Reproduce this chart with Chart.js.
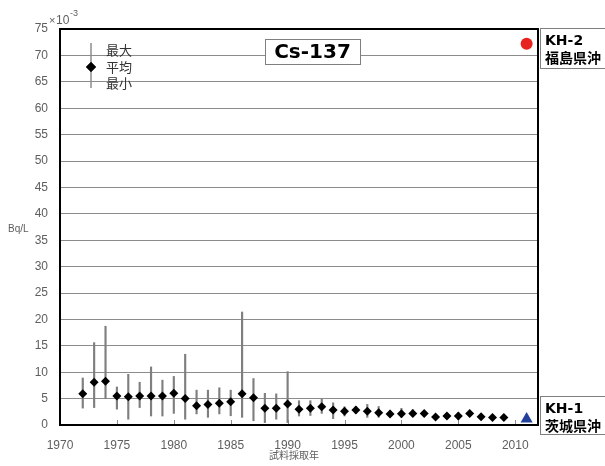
<!DOCTYPE html>
<html><head><meta charset="utf-8">
<script src="https://cdn.jsdelivr.net/npm/chart.js@4/dist/chart.umd.min.js"></script>
<style>html,body{margin:0;padding:0;background:#fff}canvas{display:block}</style>
</head><body>
<canvas id="c" width="605" height="466"></canvas>
<script>
// ---- data (Bq/L ×10^-3) ----
const years = [1972,1973,1974,1975,1976,1977,1978,1979,1980,1981,1982,1983,1984,1985,1986,1987,1988,1989,1990,1991,1992,1993,1994,1995,1996,1997,1998,1999,2000,2001,2002,2003,2004,2005,2006,2007,2008,2009];
const meanValues = [5.9,8.1,8.3,5.5,5.35,5.5,5.5,5.5,6.0,5.0,3.65,3.9,4.1,4.4,5.9,5.15,3.15,3.15,4.0,3.0,3.15,3.45,2.85,2.6,2.85,2.6,2.3,2.1,2.15,2.2,2.2,1.5,1.7,1.7,2.2,1.55,1.4,1.4];
const maxValues  = [8.9,15.6,18.7,7.2,9.6,8.1,11.0,8.5,9.2,13.4,6.6,6.6,7.05,6.6,21.4,8.8,6.0,5.9,10.1,4.6,4.6,4.9,4.2,3.45,3.5,3.9,3.5,2.8,3.15,2.9,2.7,2.0,2.2,2.3,2.6,1.9,1.7,1.7];
const minValues  = [3.2,3.3,5.0,3.0,1.1,3.3,1.7,1.7,2.2,1.1,2.1,1.45,2.1,1.75,1.45,0.8,0.45,1.1,0.45,1.7,1.8,2.2,1.2,1.7,2.2,1.45,1.45,1.6,1.45,1.7,1.8,1.1,1.2,1.0,1.8,1.2,1.1,1.1];
const kh2Years = [2011];
const kh2Values = [72.2];
const kh1Years = [2011];
const kh1Values = [1.15];
const xTickValues = [1970,1975,1980,1985,1990,1995,2000,2005,2010];
const yTickValues = [0,5,10,15,20,25,30,35,40,45,50,55,60,65,70,75];
const legendLabels = ['最大','平均','最小'];
const titleText = 'Cs-137';
const siteKH2 = ['KH-2','福島県沖'];
const siteKH1 = ['KH-1','茨城県沖'];
const yUnitText = 'Bq/L';
const xTitleText = '試料採取年';

// ---- styling ----
const GRID = '#8c8c8c';
const TXT = '#5e5e5e';
const JP = '"Noto Sans CJK JP", sans-serif';
const LAT = '"Liberation Sans", Arial, sans-serif';

const extras = {
  id: 'extras',
  beforeDatasetsDraw(chart) {
    const {ctx, chartArea: a, scales: {x}} = chart;
    ctx.save();
    ctx.strokeStyle = GRID; ctx.lineWidth = 1;
    xTickValues.forEach(v => {
      const px = Math.round(x.getPixelForValue(v)) + 0.5;
      ctx.beginPath(); ctx.moveTo(px, a.bottom); ctx.lineTo(px, a.bottom - 5); ctx.stroke();
    });
    // title box
    ctx.fillStyle = '#fff'; ctx.strokeStyle = '#7f7f7f'; ctx.lineWidth = 1;
    ctx.fillRect(265, 39, 95, 25); ctx.strokeRect(265.5, 39.5, 95, 25);
    ctx.fillStyle = '#000'; ctx.font = 'bold 20px "DejaVu Sans", sans-serif';
    ctx.textAlign = 'center'; ctx.textBaseline = 'middle';
    ctx.fillText(titleText, 312.5, 53);
    // legend sample
    const lx = a.left + 31;
    ctx.strokeStyle = GRID; ctx.lineWidth = 1.5;
    ctx.beginPath(); ctx.moveTo(lx, a.top + 14); ctx.lineTo(lx, a.top + 59); ctx.stroke();
    ctx.fillStyle = '#000';
    Chart.helpers.drawPoint(ctx, {pointStyle: 'rectRot', radius: 5, borderWidth: 0}, lx, a.top + 38);
    ctx.fill();
    ctx.fillStyle = '#333'; ctx.font = '13px ' + JP; ctx.textAlign = 'left';
    ctx.fillText(legendLabels[0], a.left + 46, a.top + 21);
    ctx.fillText(legendLabels[1], a.left + 46, a.top + 38);
    ctx.fillText(legendLabels[2], a.left + 46, a.top + 54);
    ctx.restore();
  },
  afterDraw(chart) {
    const {ctx, chartArea: a} = chart;
    ctx.save();
    // frame
    ctx.strokeStyle = '#000'; ctx.lineWidth = 2;
    ctx.strokeRect(a.left, a.top, a.right - a.left, a.bottom - a.top);
    // site boxes
    const box = (y0, y1, lines) => {
      ctx.fillStyle = '#fff'; ctx.fillRect(540, y0, 80, y1 - y0);
      ctx.strokeStyle = '#7f7f7f'; ctx.lineWidth = 1;
      ctx.strokeRect(540.5, y0 + 0.5, 80, y1 - y0);
      ctx.fillStyle = '#000'; ctx.textAlign = 'left'; ctx.textBaseline = 'middle';
      ctx.font = 'bold 14px "DejaVu Sans", sans-serif';
      ctx.fillText(lines[0], 545, y0 + 13);
      ctx.font = 'bold 14px ' + JP;
      ctx.fillText(lines[1], 545, y0 + 30);
    };
    box(28, 68, siteKH2);
    box(396, 434, siteKH1);
    // exponent
    ctx.fillStyle = TXT; ctx.textBaseline = 'middle'; ctx.textAlign = 'left';
    ctx.font = '11px ' + LAT; ctx.fillText('×', 49, 21);
    ctx.font = '12px ' + LAT; ctx.fillText('10', 56, 21);
    ctx.font = '9px ' + LAT; ctx.fillText('-3', 70, 14);
    // axis titles
    ctx.font = '10px ' + LAT; ctx.fillText(yUnitText, 8, 229);
    ctx.textAlign = 'center'; ctx.font = '10px ' + JP;
    ctx.fillText(xTitleText, (a.left + a.right) / 2 - 5, 455);
    ctx.restore();
  }
};

new Chart(document.getElementById('c'), {
  data: {
    datasets: [
      {
        type: 'bar',
        data: years.map((yr, i) => ({x: yr, y: [minValues[i], maxValues[i]]})),
        backgroundColor: '#7f7f7f',
        barThickness: 1.5,
        grouped: false,
        order: 3
      },
      {
        type: 'scatter',
        data: years.map((yr, i) => ({x: yr, y: meanValues[i]})),
        pointStyle: 'rectRot', radius: 4.5, backgroundColor: '#000', borderWidth: 0,
        order: 1
      },
      {
        type: 'scatter',
        data: kh2Years.map((yr, i) => ({x: yr, y: kh2Values[i]})),
        pointStyle: 'circle', radius: 6, backgroundColor: '#e8231f', borderWidth: 0,
        order: 1
      },
      {
        type: 'scatter',
        data: kh1Years.map((yr, i) => ({x: yr, y: kh1Values[i]})),
        pointStyle: 'triangle', radius: 7, backgroundColor: '#23409a', borderWidth: 0,
        order: 1
      }
    ]
  },
  options: {
    responsive: false,
    animation: false,
    devicePixelRatio: 1,
    layout: {padding: {left: 0, top: 29, right: 67, bottom: 0}},
    plugins: {legend: {display: false}, tooltip: {enabled: false}},
    scales: {
      x: {
        type: 'linear', min: 1970, max: 2012, offset: false,
        afterFit(s) { s.height = 41; },
        afterBuildTicks(s) { s.ticks = xTickValues.map(v => ({value: v})); },
        grid: {display: false, drawTicks: false, offset: false},
        border: {display: false},
        ticks: {padding: 13, color: TXT, font: {family: LAT, size: 12}, callback: v => String(v), maxRotation: 0, autoSkip: false}
      },
      y: {
        type: 'linear', min: 0, max: 75,
        afterFit(s) { s.width = 60; },
        afterBuildTicks(s) { s.ticks = yTickValues.map(v => ({value: v})); },
        grid: {color: GRID, lineWidth: 1, drawTicks: false},
        border: {display: false},
        ticks: {padding: 12, color: TXT, font: {family: LAT, size: 12}, callback: v => String(v)}
      }
    }
  },
  plugins: [extras]
});
</script>
</body></html>
